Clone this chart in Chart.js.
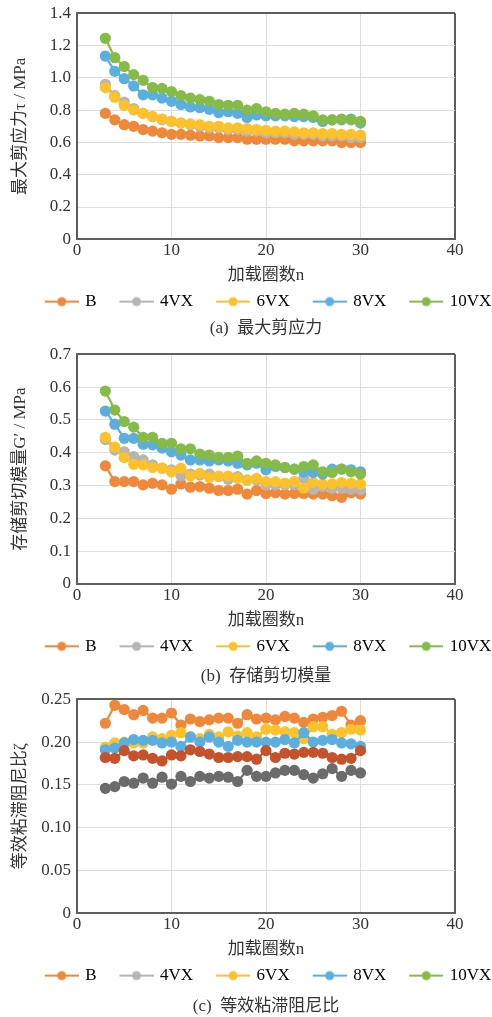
<!DOCTYPE html>
<html><head><meta charset="utf-8">
<script src="https://cdn.jsdelivr.net/npm/chart.js@4"></script>
<style>
html,body{margin:0;padding:0;background:#fff;overflow:hidden;width:492px;height:1017px;position:relative;}
.box{position:absolute;left:0;width:492px;}
</style></head><body>
<div class="box" style="top:-3px;height:341px"><canvas id="ca"></canvas></div>
<div class="box" style="top:338px;height:348px"><canvas id="cb"></canvas></div>
<div class="box" style="top:683px;height:334px"><canvas id="cc"></canvas></div>
<script>
// ---- data ----
const cycles = [3,4,5,6,7,8,9,10,11,12,13,14,15,16,17,18,19,20,21,22,23,24,25,26,27,28,29,30];
const seriesNames = ['B','4VX','6VX','8VX','10VX'];
const legendColors = ['#F0883A','#B5B5B5','#FDC12C','#5BAEE0','#86BB48'];
const dampingColors = ['#F0883A','#6B6B6B','#FDC12C','#5BAEE0','#C4522A'];
const xTicks = [0,10,20,30,40];

// (a) 最大剪应力 τ / MPa
const tauB  = [0.78,0.74,0.71,0.70,0.68,0.67,0.66,0.65,0.65,0.645,0.64,0.64,0.63,0.63,0.63,0.62,0.62,0.62,0.62,0.62,0.61,0.61,0.61,0.61,0.61,0.60,0.60,0.60];
const tau4  = [0.96,0.89,0.85,0.81,0.78,0.76,0.74,0.73,0.72,0.71,0.70,0.69,0.69,0.68,0.68,0.67,0.67,0.66,0.66,0.66,0.65,0.65,0.65,0.64,0.64,0.64,0.63,0.63];
const tau6  = [0.94,0.88,0.83,0.80,0.78,0.76,0.745,0.73,0.72,0.715,0.71,0.70,0.70,0.69,0.69,0.685,0.68,0.675,0.67,0.67,0.665,0.66,0.66,0.655,0.655,0.65,0.65,0.645];
const tau8  = [1.135,1.04,0.995,0.95,0.895,0.895,0.875,0.855,0.835,0.82,0.815,0.805,0.785,0.79,0.78,0.755,0.77,0.765,0.765,0.765,0.76,0.76,0.755,0.73,0.74,0.74,0.745,0.72];
const tau10 = [1.245,1.125,1.07,1.02,0.985,0.94,0.935,0.915,0.89,0.875,0.865,0.855,0.835,0.83,0.83,0.80,0.81,0.79,0.78,0.775,0.78,0.775,0.765,0.74,0.74,0.745,0.74,0.73];
const tauTicks = [0,0.2,0.4,0.6,0.8,1.0,1.2,1.4];

// (b) 存储剪切模量 G' / MPa
const gB  = [0.36,0.312,0.312,0.312,0.302,0.307,0.302,0.289,0.305,0.295,0.297,0.292,0.285,0.285,0.289,0.274,0.285,0.276,0.278,0.274,0.276,0.276,0.274,0.274,0.269,0.264,0.278,0.274];
const g4  = [0.44,0.408,0.403,0.388,0.378,0.363,0.353,0.348,0.329,0.335,0.332,0.335,0.327,0.319,0.327,0.317,0.317,0.302,0.302,0.302,0.302,0.322,0.289,0.297,0.292,0.292,0.289,0.287];
const g6  = [0.447,0.417,0.385,0.365,0.363,0.355,0.353,0.342,0.353,0.329,0.337,0.325,0.329,0.329,0.322,0.317,0.322,0.312,0.312,0.307,0.312,0.292,0.309,0.305,0.305,0.309,0.307,0.305];
const g8  = [0.527,0.487,0.444,0.444,0.426,0.424,0.414,0.403,0.393,0.378,0.378,0.375,0.378,0.375,0.368,0.363,0.368,0.348,0.358,0.355,0.35,0.342,0.34,0.335,0.35,0.35,0.348,0.342];
const g10 = [0.588,0.53,0.495,0.478,0.447,0.447,0.429,0.429,0.412,0.412,0.396,0.393,0.386,0.386,0.39,0.368,0.375,0.368,0.363,0.355,0.35,0.358,0.363,0.342,0.34,0.35,0.342,0.335];
const gTicks = [0,0.1,0.2,0.3,0.4,0.5,0.6,0.7];

// (c) 等效粘滞阻尼比 ζ
const zB  = [0.222,0.243,0.238,0.232,0.237,0.228,0.228,0.234,0.220,0.227,0.224,0.226,0.228,0.228,0.222,0.232,0.227,0.228,0.226,0.230,0.228,0.223,0.227,0.229,0.231,0.236,0.220,0.225];
const z4  = [0.146,0.148,0.154,0.152,0.158,0.152,0.159,0.151,0.160,0.154,0.160,0.158,0.160,0.159,0.154,0.167,0.160,0.160,0.164,0.167,0.167,0.162,0.158,0.163,0.169,0.160,0.167,0.164];
const z6  = [0.194,0.199,0.200,0.199,0.199,0.206,0.204,0.208,0.211,0.206,0.204,0.209,0.206,0.212,0.207,0.211,0.206,0.215,0.214,0.212,0.211,0.204,0.218,0.218,0.209,0.211,0.215,0.214];
const z8  = [0.191,0.193,0.199,0.203,0.202,0.202,0.199,0.200,0.195,0.206,0.200,0.206,0.200,0.195,0.202,0.200,0.200,0.200,0.200,0.203,0.199,0.211,0.200,0.202,0.203,0.199,0.198,0.195];
const z10 = [0.182,0.181,0.190,0.184,0.185,0.181,0.178,0.185,0.184,0.191,0.189,0.186,0.182,0.182,0.183,0.183,0.180,0.190,0.182,0.187,0.186,0.188,0.188,0.187,0.182,0.180,0.181,0.190];
const zTicks = [0,0.05,0.10,0.15,0.20,0.25];

// ---- styling ----
const FONT = "'Liberation Serif','Noto Sans CJK SC',serif";
Chart.defaults.font.family = FONT;
Chart.defaults.color = '#333';
const GRID = '#DEDEDE';
const AXIS = '#5E5E5E';

function legendImage(color){
  const s = 16, c = document.createElement('canvas');
  c.width = s + 36; c.height = 12;
  const g = c.getContext('2d');
  g.strokeStyle = color; g.lineWidth = 2;
  g.beginPath(); g.moveTo(s + 2, 6); g.lineTo(s + 36, 6); g.stroke();
  g.fillStyle = color;
  g.beginPath(); g.arc(s + 19, 6, 4.5, 0, Math.PI * 2); g.fill();
  return c;
}
const legendImages = legendColors.map(legendImage);

const shiftPlugin = {
  id: 'shiftBoxes',
  afterLayout(chart, args, opts){
    if (chart.legend){ chart.legend.left += opts.legendDx; chart.legend.right += opts.legendDx; }
    if (chart.titleBlock){ chart.titleBlock.left += opts.titleDx; chart.titleBlock.right += opts.titleDx; }
  }
};

function makeChart(id, cfg){
  const datasets = cfg.series.map((vals, i) => ({
    label: seriesNames[i],
    data: cycles.map((c, k) => ({x: c, y: vals[k]})),
    borderColor: cfg.colors[i],
    backgroundColor: cfg.colors[i],
    pointBackgroundColor: cfg.colors[i],
    pointBorderColor: cfg.colors[i],
    pointBorderWidth: 0,
    pointRadius: 5.6,
    borderWidth: 2.2,
    order: cfg.series.length - i,
    tension: 0
  }));
  const tickFont = {size: 17};
  const yMax = cfg.ticks[cfg.ticks.length - 1];
  return new Chart(document.getElementById(id), {
    type: 'line',
    data: {datasets},
    plugins: [shiftPlugin],
    options: {
      responsive: true,
      maintainAspectRatio: false,
      animation: false,
      layout: {padding: cfg.pad},
      plugins: {
        tooltip: {enabled: false},
        shiftBoxes: {legendDx: 14, titleDx: 20},
        legend: {
          position: 'bottom',
          labels: {
            usePointStyle: true,
            pointStyleWidth: 48,
            padding: 7,
            color: '#333',
            font: {size: 17},
            generateLabels: () => seriesNames.map((n, i) => ({
              text: n, fillStyle: legendColors[i], strokeStyle: legendColors[i],
              lineWidth: 0, pointStyle: legendImages[i], hidden: false, datasetIndex: i
            }))
          }
        },
        title: {
          display: true,
          position: 'bottom',
          text: cfg.caption,
          color: '#333',
          font: {size: 17, weight: 'normal', lineHeight: 1},
          padding: {top: cfg.capPad, bottom: 0}
        }
      },
      scales: {
        x: {
          type: 'linear', min: 0, max: 40,
          afterBuildTicks: s => { s.ticks = xTicks.map(v => ({value: v})); },
          ticks: {padding: 1, font: tickFont, color: '#333'},
          grid: {
            drawTicks: false,
            color: ctx => ctx.index === xTicks.length - 1 ? AXIS : GRID,
            lineWidth: ctx => ctx.index === xTicks.length - 1 ? 2 : 1
          },
          border: {color: AXIS, width: 2},
          title: {display: true, text: '加载圈数n', font: {size: 17}, color: '#333', padding: {top: 4, bottom: 0}}
        },
        y: {
          type: 'linear', min: 0, max: yMax,
          afterBuildTicks: s => { s.ticks = cfg.ticks.map(v => ({value: v})); },
          afterFit: s => { s.width = 77; },
          ticks: {
            padding: 6, font: tickFont, color: '#333',
            callback: v => v === 0 ? '0' : v.toFixed(cfg.dec)
          },
          grid: {
            drawTicks: false,
            color: ctx => ctx.index === cfg.ticks.length - 1 ? AXIS : GRID,
            lineWidth: ctx => ctx.index === cfg.ticks.length - 1 ? 2 : 1
          },
          border: {color: AXIS, width: 2},
          title: {display: true, text: cfg.yTitle, font: {size: 17}, color: '#333', padding: {top: 10, bottom: 0}}
        },
        // empty right-hand margin so the plot frame ends where the reference's does
        yRight: {
          type: 'linear', position: 'right', min: 0, max: 1,
          afterFit: s => { s.width = 37; },
          ticks: {display: false},
          grid: {display: false, drawTicks: false},
          border: {display: false}
        }
      }
    }
  });
}

makeChart('ca', {
  series: [tauB, tau4, tau6, tau8, tau10], colors: legendColors, ticks: tauTicks, dec: 1,
  yTitle: '最大剪应力τ / MPa', caption: '(a)  最大剪应力', capPad: 0,
  pad: {top: 16.3, bottom: 0.9, left: 0, right: 0}
});
makeChart('cb', {
  series: [gB, g4, g6, g8, g10], colors: legendColors, ticks: gTicks, dec: 1,
  yTitle: '存储剪切模量G′ / MPa', caption: '(b)  存储剪切模量', capPad: 3,
  pad: {top: 16.3, bottom: 1.2, left: 0, right: 0}
});
makeChart('cc', {
  series: [zB, z4, z6, z8, z10], colors: dampingColors, ticks: zTicks, dec: 2,
  yTitle: '等效粘滞阻尼比ζ', caption: '(c)  等效粘滞阻尼比', capPad: 4,
  pad: {top: 16.3, bottom: 1.9, left: 0, right: 0}
});
</script>
</body></html>
